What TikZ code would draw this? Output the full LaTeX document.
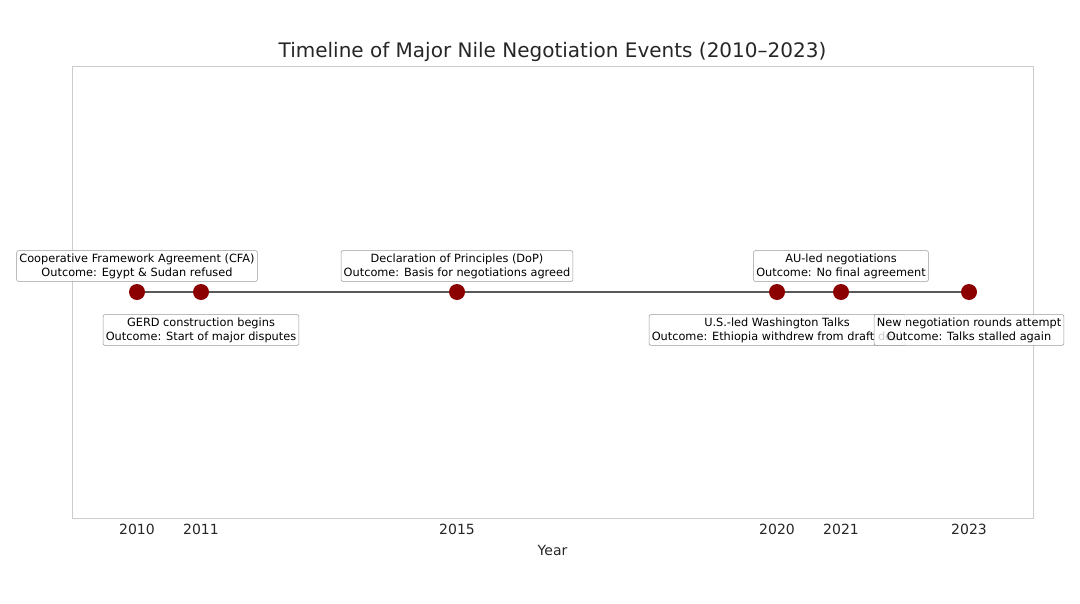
\documentclass[tikz,border=0pt]{standalone}
\usepackage{fontspec}
\setmainfont{DejaVu Sans}
\usepackage{xcolor}
\usepackage{tikz}
\usetikzlibrary{positioning}
\definecolor{granate}{HTML}{8B0000}
\tikzset{
  evento/.style={circle,fill=granate,inner sep=0pt,minimum size=12pt},
  caja/.style={draw=gray!80,fill=white,fill opacity=0.8,text opacity=1,rounded corners=1.5pt,
    font=\fontsize{8.5}{10.5}\selectfont,align=center,inner xsep=2pt,inner ysep=2.2pt},
  marco/.style={draw=black!20,line width=0.6pt},
  linea/.style={black!65,line width=1pt},
  anio/.style={font=\fontsize{10.5}{12}\selectfont,text=black!85}
}

\begin{document}
\begin{tikzpicture}[x=0.75pt,y=-0.75pt]
\useasboundingbox (0,0) rectangle (1080,603);
\draw[marco] (72,66) rectangle (1033,518);
\node[font=\fontsize{15}{18}\selectfont,text=black!85] (titulo) at (552.5,52) {Timeline of Major Nile Negotiation Events (2010--2023)};
% puntos de la linea de tiempo
\node[evento] (e2010) at (137,292) {};
\node[evento] (e2011) at (201,292) {};
\node[evento] (e2015) at (457,292) {};
\node[evento] (e2020) at (777,292) {};
\node[evento] (e2021) at (841,292) {};
\node[evento] (e2023) at (969,292) {};
\draw[linea] (e2010) -- (e2011) -- (e2015) -- (e2020) -- (e2021) -- (e2023);
% etiquetas arriba y abajo
\node[caja,above=1.5pt of e2010] (c2010) {Cooperative Framework Agreement (CFA)\\Outcome: Egypt \& Sudan refused};
\node[caja,below=10.5pt of e2011] (c2011) {GERD construction begins\\Outcome: Start of major disputes};
\node[caja,above=1.5pt of e2015] (c2015) {Declaration of Principles (DoP)\\Outcome: Basis for negotiations agreed};
\node[caja,below=10.5pt of e2020] (c2020) {U.S.-led Washington Talks\\Outcome: Ethiopia withdrew from draft deal};
\node[caja,above=1.5pt of e2021] (c2021) {AU-led negotiations\\Outcome: No final agreement};
\node[caja,below=10.5pt of e2023] (c2023) {New negotiation rounds attempt\\Outcome: Talks stalled again};
% eje
\node[anio] (t2010) at (137,529) {2010};
\node[anio] (t2011) at (201,529) {2011};
\node[anio] (t2015) at (457,529) {2015};
\node[anio] (t2020) at (777,529) {2020};
\node[anio] (t2021) at (841,529) {2021};
\node[anio] (t2023) at (969,529) {2023};
\node[anio] (year) at (552.5,550) {Year};
\end{tikzpicture}
\end{document}
